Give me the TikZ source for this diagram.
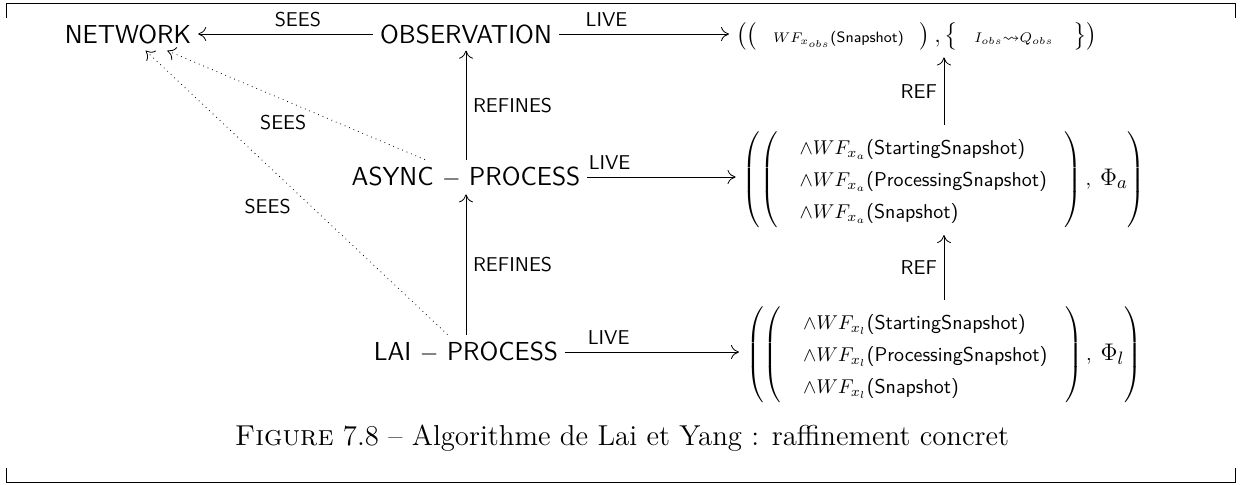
\documentclass[tikz,border=0pt]{standalone}
\usepackage{amsmath,amssymb}
\usepackage{xcolor}
\usepackage{tikz}
\usetikzlibrary{arrows.meta, positioning}
\renewcommand{\arraystretch}{1.33}
\newcommand{\tinyf}[1]{\mbox{\fontsize{7.5}{9}\selectfont #1}}

\begin{document}
\begin{tikzpicture}[x=0.5pt, y=0.5pt, auto, >={To[length=4pt, width=7pt]},
    machine/.style={font=\fontsize{13}{15}\selectfont\sffamily},
    lbl/.style={font=\fontsize{10}{12}\selectfont\sffamily},
    formula/.style={font=\fontsize{10}{12}\selectfont}]
    \useasboundingbox (0,0) rectangle (1243,-484);
    \draw (6,-18) -- (6,-3) -- (1235,-3) -- (1235,-18);
    \draw (6,-468) -- (6,-482) -- (1235,-482) -- (1235,-468);

    \node [machine] (network) at (128,-34) {NETWORK};
    \node [machine] (obs) at (466,-34) {OBSERVATION};
    \node [machine] (async) at (466,-177) {ASYNC $-$ PROCESS};
    \node [machine] (lai) at (466,-352) {LAI $-$ PROCESS};

    \node [formula, font=\fontsize{11.5}{14}\selectfont, anchor=west] (fobs) at (729,-36) {$\bigl(\bigl(\hspace{8pt}\tinyf{$WF_{x_{obs}}$\sffamily(Snapshot)}\hspace{8pt}\bigr)\,,\bigl\{\hspace{8pt}\tinyf{$I_{obs}{\leadsto}Q_{obs}$}\hspace{10pt}\bigr\}\bigr)$};
    \node [formula] (fasync) at (944,-180) {$\left(\left(\begin{array}{@{\hspace{11pt}}l@{\hspace{9pt}}}
        \wedge WF_{x_a}\textsf{(StartingSnapshot)}\\
        \wedge WF_{x_a}\textsf{(ProcessingSnapshot)}\\
        \wedge WF_{x_a}\textsf{(Snapshot)}
        \end{array}\right),\;\mbox{\fontsize{12.5}{14}\selectfont$\Phi_a$}\right)$};
    \node [formula] (flai) at (944,-355) {$\left(\left(\begin{array}{@{\hspace{11pt}}l@{\hspace{9pt}}}
        \wedge WF_{x_l}\textsf{(StartingSnapshot)}\\
        \wedge WF_{x_l}\textsf{(ProcessingSnapshot)}\\
        \wedge WF_{x_l}\textsf{(Snapshot)}
        \end{array}\right),\;\mbox{\fontsize{12.5}{14}\selectfont$\Phi_l$}\right)$};

    \node [font=\fontsize{14.4}{17}\selectfont] (caption) at (622,-438) {\textsc{Figure} 7.8 -- Algorithme de Lai et Yang : raffinement concret};

    \draw [->] (obs) -- node [lbl, above, pos=0.43] {SEES} (network);
    \draw [->] (obs.east) -- node [lbl, above, pos=0.28] {LIVE} (obs.east -| fobs.west);
    \draw [->] (async.east) -- node [lbl, above, pos=0.15] {LIVE} (async.east -| fasync.west);
    \draw [->] (lai.east) -- node [lbl, above, pos=0.25] {LIVE} (lai.east -| flai.west);
    \draw [->] (async) -- node [lbl, right] {REFINES} (obs);
    \draw [->] (lai) -- node [lbl, right] {REFINES} (async);
    \draw [->] (fasync.north) -- node [lbl, left] {REF} (fasync.north |- fobs.south);
    \draw [->] (flai) -- node [lbl, left] {REF} (fasync);
    \draw [->, dotted] (async) -- node [lbl, below=4.4pt, pos=0.55] {SEES} (network);
    \draw [->, dotted] (lai) -- node [lbl, left=7pt, pos=0.45] {SEES} (network);
\end{tikzpicture}
\end{document}
